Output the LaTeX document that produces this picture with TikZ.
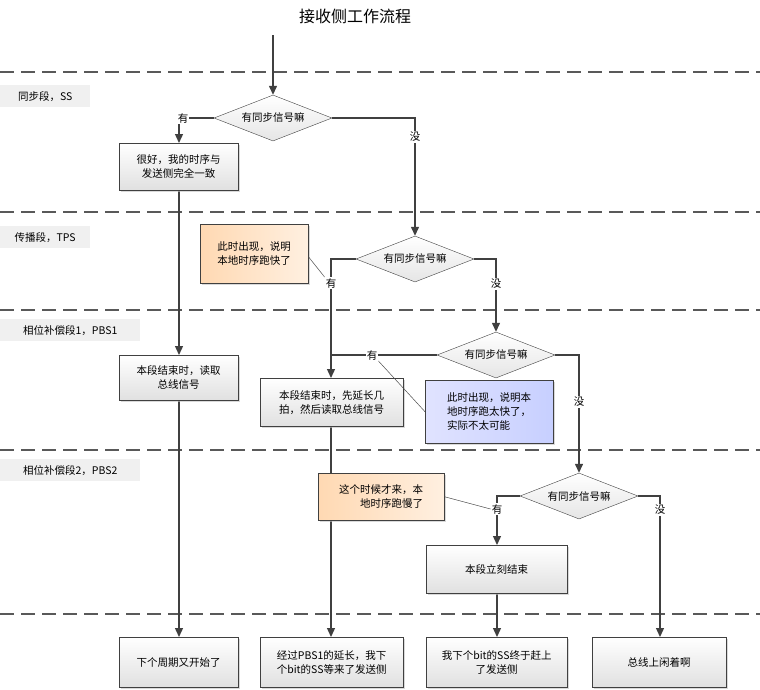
\documentclass[tikz,border=0pt]{standalone}
\usepackage{fontspec}
\setmainfont{Noto Sans CJK SC}
\usetikzlibrary{shapes.geometric,arrows.meta,shadows}
\begin{document}
\begin{tikzpicture}[x=1pt,y=-1pt,
  font=\fontsize{10.5}{14}\selectfont,
  ln/.style={draw=black!75,line width=1.3pt},
  ar/.style={ln,-{Triangle[length=9pt,width=8pt]}},
  sep/.style={draw=black!65,line width=1.6pt,dash pattern=on 14pt off 7pt},
  sec/.style={fill=black!6,anchor=north west,inner sep=0pt,minimum height=22pt,text depth=0pt,align=left,inner xsep=5pt},
  box/.style={draw=black!75,top color=white,bottom color=black!12,align=center,inner sep=2pt,drop shadow={shadow xshift=2pt,shadow yshift=-2pt,fill=black!25,opacity=.6}},
  dia/.style={diamond,draw=black!75,top color=white,bottom color=black!10,aspect=2.6,inner sep=0pt,minimum width=118pt,minimum height=46pt},
  orn/.style={draw=black!75,left color=orange!30!white,right color=orange!12!white,inner sep=2pt,drop shadow={shadow xshift=2pt,shadow yshift=-2pt,fill=black!25,opacity=.6}},
  blu/.style={draw=black!75,left color=cyan!8!blue!12!white,right color=cyan!15!blue!22!white,inner sep=2pt,drop shadow={shadow xshift=2pt,shadow yshift=-2pt,fill=black!25,opacity=.6}},
  lab/.style={fill=white,inner sep=1pt},
  nt/.style={draw=black!70,line width=0.5pt}]
\useasboundingbox (0,0) rectangle (760,689);
\node (title) at (355,16) {\fontsize{16}{18}\selectfont 接收侧工作流程};
\foreach \y/\n in {72/a,212/b,310/c,450/d,614/e} \draw[sep] (0,\y) coordinate (l\n) -- (760,\y) coordinate (r\n);
\node[sec,minimum width=90pt] (s1) at (0,85) {同步段，SS};
\node[sec,minimum width=90pt] (s2) at (0,226) {传播段，TPS};
\node[sec,minimum width=140pt] (s3) at (0,319) {相位补偿段1，PBS1};
\node[sec,minimum width=140pt] (s4) at (0,459) {相位补偿段2，PBS2};
% coordinates
\coordinate (st) at (273,35);
\coordinate (c1) at (179,118);
\coordinate (c2) at (415,118);
\coordinate (c3) at (331,259);
\coordinate (c4) at (496,259);
\coordinate (c5) at (331,355);
\coordinate (c6) at (579,355);
\coordinate (c7) at (497,496);
\coordinate (c8) at (660,496);
% nodes
\node[dia] (d1) at (273,118) {有同步信号嘛};
\node[dia] (d2) at (415,259) {有同步信号嘛};
\node[dia] (d3) at (496,355) {有同步信号嘛};
\node[dia] (d4) at (579,496) {有同步信号嘛};
% connectors
\draw[ar] (st) -- (d1.north);
\draw[ar] (d1.west) -- (c1) -- (179,143);
\draw[ar] (d1.east) -- (c2) -- (d2.north);
\draw[ar] (d2.west) -- (c3) -- (331,378);
\draw[ar] (d2.east) -- (c4) -- (d3.north);
\draw[ln] (d3.west) -- (c5);
\draw[ar] (d3.east) -- (c6) -- (d4.north);
\draw[ar] (d4.west) -- (c7) -- (497,545);
\draw[ar] (d4.east) -- (c8) -- (660,637);
\draw[ar] (179,190) -- (179,355);
\draw[ar] (179,400) -- (179,637);
\draw[ar] (331,426) -- (331,637);
\draw[ar] (497,593) -- (497,637);
% boxes
\node[box,minimum width=119pt,minimum height=47pt,anchor=north west] (b1) at (119,143) {很好，我的时序与\\发送侧完全一致};
\node[box,minimum width=119pt,minimum height=45pt,anchor=north west] (b2) at (119,355) {本段结束时，读取\\总线信号};
\node[box,minimum width=143pt,minimum height=48pt,anchor=north west] (b3) at (260,378) {本段结束时，先延长几\\拍，然后读取总线信号};
\node[box,minimum width=141pt,minimum height=48pt,anchor=north west] (b4) at (426,545) {本段立刻结束};
\node[box,minimum width=119pt,minimum height=50pt,anchor=north west] (f1) at (119,637) {下个周期又开始了};
\node[box,minimum width=143pt,minimum height=50pt,anchor=north west] (f2) at (260,637) {经过PBS1的延长，我下\\个bit的SS等来了发送侧};
\node[box,minimum width=141pt,minimum height=50pt,anchor=north west] (f3) at (426,637) {我下个bit的SS终于赶上\\了发送侧};
\node[box,minimum width=134pt,minimum height=50pt,anchor=north west] (f4) at (592,637) {总线上闲着啊};
\node[orn,minimum width=108pt,minimum height=59pt,anchor=north west,align=left] (o1) at (200,224) {此时出现，说明\\本地时序跑快了};
\node[blu,minimum width=128pt,minimum height=63pt,anchor=north west,align=left] (o2) at (425,380) {此时出现，说明本\\地时序跑太快了，\\实际不太可能};
\node[orn,minimum width=126pt,minimum height=47pt,anchor=north west,align=right] (o3) at (318,473) {这个时候才来，本\\地时序跑慢了};
% labels
\node[lab] (y1) at (183,118) {有};
\node[lab] (n1) at (415,137) {没};
\node[lab] (y2) at (331,283) {有};
\node[lab] (n2) at (496,284) {没};
\node[lab] (y3) at (372,355) {有};
\node[lab] (n3) at (579,402) {没};
\node[lab] (y4) at (497,509) {有};
\node[lab] (n4) at (660,510) {没};
% note lines
\draw[nt] (o1.east) ++(0,3) -- (y2.north west);
\draw[nt] (y3.south east) -- (o2.west);
\draw[nt] (o3.east) -- (y4.west);
\end{tikzpicture}
\end{document}
